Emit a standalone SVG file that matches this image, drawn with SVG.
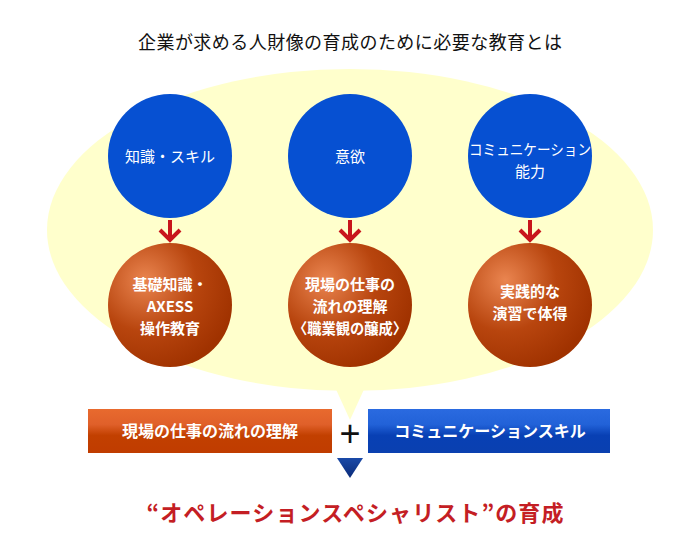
<svg xmlns="http://www.w3.org/2000/svg" width="700" height="550" viewBox="0 0 700 550">
<defs>
<radialGradient id="brown" cx="0.3" cy="0.3" r="0.75">
<stop offset="0" stop-color="#ea8550"/>
<stop offset="0.55" stop-color="#b8450e"/>
<stop offset="1" stop-color="#a03200"/>
</radialGradient>
<linearGradient id="barL" x1="0" y1="0" x2="0" y2="1">
<stop offset="0" stop-color="#e86a2e"/>
<stop offset="0.35" stop-color="#e0602a"/>
<stop offset="0.6" stop-color="#c24000"/>
<stop offset="1" stop-color="#c03c00"/>
</linearGradient>
<linearGradient id="barR" x1="0" y1="0" x2="0" y2="1">
<stop offset="0" stop-color="#2a6ae0"/>
<stop offset="0.35" stop-color="#2262d8"/>
<stop offset="0.6" stop-color="#0840b4"/>
<stop offset="1" stop-color="#0a40b0"/>
</linearGradient>
<linearGradient id="tri" x1="0" y1="0" x2="0" y2="1">
<stop offset="0" stop-color="#1a4aa8"/>
<stop offset="1" stop-color="#0a2a78"/>
</linearGradient>
</defs>
<style>
text{font-family:"Noto Sans CJK JP","Liberation Sans",sans-serif;text-anchor:middle}
.title{font-size:18px;fill:#111}
.blue{fill:#0650d2}
.brown{fill:url(#brown)}
.wt{font-size:15px;fill:#fff}
.bt{font-size:15px;fill:#fff;font-weight:bold}
.arrow{fill:none;stroke:#c8161c;stroke-width:4}
.bar{font-size:16px;fill:#fff;font-weight:bold}
</style>
<rect width="700" height="550" fill="#fff"/>
<text class="title" x="350" y="49" textLength="424" lengthAdjust="spacing">企業が求める人財像の育成のために必要な教育とは</text>
<g id="bubble">
<ellipse cx="350" cy="230" rx="303" ry="161" fill="#ffffcc"/>
<polygon points="334,385 366,385 350,420" fill="#ffffcc"/>
</g>
<g id="connectors">
<g class="arrow">
<path d="M170 220 V240 M160 230 L170 240 L180 230"/>
<path d="M350 220 V240 M340 230 L350 240 L360 230"/>
<path d="M530 220 V240 M520 230 L530 240 L540 230"/>
</g>
</g>
<g id="n1">
<circle class="blue" cx="170" cy="156" r="62"/>
<text class="wt" x="170" y="162">知識・スキル</text>
</g>
<g id="n2">
<circle class="blue" cx="350" cy="156" r="62"/>
<text class="wt" x="350" y="162">意欲</text>
</g>
<g id="n3">
<circle class="blue" cx="530" cy="156" r="62"/>
<text class="wt" x="530" y="155" textLength="122" lengthAdjust="spacingAndGlyphs">コミュニケーション</text>
<text class="wt" x="530" y="177">能力</text>
</g>
<g id="n4">
<circle class="brown" cx="170" cy="305" r="62"/>
<text class="bt" x="170" y="290">基礎知識・</text>
<text class="bt" x="170" y="312">AXESS</text>
<text class="bt" x="170" y="334">操作教育</text>
</g>
<g id="n5">
<circle class="brown" cx="350" cy="305" r="62"/>
<text class="bt" x="350" y="290">現場の仕事の</text>
<text class="bt" x="350" y="312">流れの理解</text>
<text class="bt" x="350" y="334" textLength="114" lengthAdjust="spacingAndGlyphs">〈職業観の醸成〉</text>
</g>
<g id="n6">
<circle class="brown" cx="530" cy="305" r="62"/>
<text class="bt" x="530" y="297">実践的な</text>
<text class="bt" x="530" y="319">演習で体得</text>
</g>
<g id="barLeft">
<rect x="88" y="409" width="244" height="44" fill="url(#barL)"/>
<text class="bar" x="210" y="437">現場の仕事の流れの理解</text>
</g>
<text x="350" y="446" style="font-size:36px;fill:#111;font-family:'Liberation Sans',sans-serif">+</text>
<g id="barRight">
<rect x="368" y="409" width="242" height="44" fill="url(#barR)"/>
<text class="bar" x="490" y="437">コミュニケーションスキル</text>
</g>
<polygon points="337,458 363,458 350,478" fill="url(#tri)"/>
<text x="355" y="521" textLength="417" lengthAdjust="spacing" style="font-size:22px;font-weight:bold;fill:#c41e24">“オペレーションスペシャリスト”の育成</text>
</svg>
